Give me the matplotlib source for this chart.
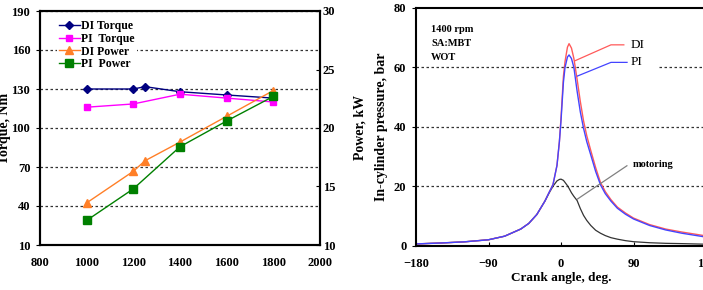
import numpy as np
import matplotlib
matplotlib.use("Agg")
import matplotlib.pyplot as plt

plt.rcParams['font.family'] = ['Liberation Serif', 'DejaVu Serif']
plt.rcParams['font.weight'] = 'bold'

# ---------------- data: left chart ----------------
speed_di = [1000, 1200, 1250, 1400, 1600, 1800]
speed_pi = [1000, 1200, 1400, 1600, 1800]
di_torque = [130, 130, 131.8, 127.9, 125.4, 123.0]
pi_torque = [116, 118.5, 126, 123, 120]
di_power = [13.6, 16.3, 17.2, 18.8, 21.0, 23.2]
pi_power = [12.1, 14.8, 18.4, 20.6, 22.7]

# ---------------- data: right chart ----------------
crank = [-180, -150, -120, -90, -70, -50, -40, -30, -20, -15, -10, -5, -2, 0, 3, 5, 8, 10,
         13, 16, 20, 24, 28, 32, 37, 43, 49, 55, 62, 70, 80, 90, 110, 130, 150, 180]
p_pi = [0.6, 0.9, 1.3, 2.0, 3.2, 5.6, 7.5, 10.5, 15.0, 17.8, 20.5, 27, 35, 42, 55, 60, 63.5, 64.2,
        63, 60, 52, 45, 39.5, 35, 30.5, 25, 20.5, 17.5, 15, 12.6, 10.6, 9.0, 6.8, 5.3, 4.2, 2.9]
p_di = [0.6, 0.9, 1.3, 2.0, 3.2, 5.6, 7.5, 10.5, 15.0, 17.8, 20.5, 27, 35, 43, 57, 62, 66.8, 68,
        66.5, 63, 56, 48.5, 42, 37, 32, 26.3, 21.3, 18.2, 15.5, 13, 11, 9.3, 7.1, 5.6, 4.6, 3.3]
p_mot = [0.6, 0.9, 1.3, 2.0, 3.2, 5.6, 7.5, 10.5, 15.0, 17.6, 20.0, 21.8, 22.3, 22.4, 22, 21.3, 20.2, 19.3,
         17.8, 16.6, 15.2, 12.5, 10.2, 8.5, 6.8, 5.2, 4.2, 3.4, 2.7, 2.2, 1.7, 1.35, 1.0, 0.8, 0.7, 0.5]

fig = plt.figure(figsize=(7.03, 2.9), dpi=100)

# ================ left chart ================
ax = fig.add_axes([40 / 703, 1 - 245 / 290, 280 / 703, 234 / 290])
ax2 = ax.twinx()

ax.set_xlim(800, 2000)
ax.set_ylim(10, 190)
ax.set_xticks(np.arange(800, 2001, 200))
ax.set_yticks(np.arange(10, 191, 30))
ax2.set_ylim(10, 30)
ax2.set_yticks([10, 15, 20, 25, 30])
ax.grid(axis='y', linestyle=(0, (2, 2)), color='#333333', linewidth=0.9)

l1, = ax.plot(speed_di, di_torque, color='#000080', marker='D', markersize=4, linewidth=1, label='DI Torque')
l2, = ax.plot(speed_pi, pi_torque, color='#FF00FF', marker='s', markersize=5, linewidth=1, label='PI  Torque')
l3, = ax2.plot(speed_di, di_power, color='#FF7F27', marker='^', markersize=6, linewidth=1, label='DI Power')
l4, = ax2.plot(speed_pi, pi_power, color='#008000', marker='s', markersize=6, linewidth=1, label='PI  Power')

leg = ax2.legend(handles=[l1, l2, l3, l4], loc='upper left', bbox_to_anchor=(0.04, 0.995),
                 frameon=True, fancybox=False, edgecolor='none', facecolor='white', framealpha=1,
                 fontsize=8.5, handlelength=1.7, handletextpad=0.15, labelspacing=0.05, borderpad=0.2)

for a in (ax, ax2):
    for s in a.spines.values():
        s.set_linewidth(1.5)
ax.tick_params(axis='y', direction='out', length=3, labelsize=9, pad=4)
ax.tick_params(axis='x', length=0, labelsize=9, pad=9)
ax2.tick_params(axis='y', direction='in', length=3, labelsize=9, pad=2)

ax.set_ylabel('Torque, Nm', fontsize=10, fontweight='bold')
ax.yaxis.set_label_coords(-0.105, 0.5)
ax2.set_ylabel('Power, kW', fontsize=10, fontweight='bold')
ax2.yaxis.set_label_coords(1.12, 0.5)
ax.set_xlabel('Engine speed, rpm', fontsize=10, fontweight='bold')
ax.xaxis.set_label_coords(0.5, -0.2)

# ================ right chart ================
bx = fig.add_axes([416 / 703, 1 - 245.7 / 290, 290 / 703, 237.7 / 290])
bx.set_xlim(-180, 180)
bx.set_ylim(0, 80)
bx.set_xticks([-180, -90, 0, 90, 180])
bx.set_yticks(np.arange(0, 81, 20))

# dotted grid; the 60 line is broken behind the labels
for g in [20, 40]:
    bx.axhline(g, color='#333333', linestyle=(0, (2, 2)), linewidth=0.9, zorder=0)
bx.axhline(60, xmax=(37 + 180) / 360, color='#333333', linestyle=(0, (2, 2)), linewidth=0.9, zorder=0)
bx.axhline(60, xmin=(122 + 180) / 360, color='#333333', linestyle=(0, (2, 2)), linewidth=0.9, zorder=0)

bx.plot(crank, p_mot, color='#333333', linewidth=0.9)
bx.plot(crank, p_di, color='#FF5A5A', linewidth=1.0)
bx.plot(crank, p_pi, color='#4444FF', linewidth=1.0)

# leader lines
bx.plot([17, 62, 78], [62.2, 67.6, 67.6], color='#FF5A5A', linewidth=0.9)
bx.plot([20.4, 62, 82], [57.1, 61.7, 61.7], color='#4444FF', linewidth=0.9)
bx.plot([20.4, 81.8], [15.7, 26.9], color='#808080', linewidth=0.9)
bx.text(86, 67.6, 'DI', fontsize=9.5, fontweight='normal', va='center', ha='left')
bx.text(86, 61.7, 'PI', fontsize=9.5, fontweight='normal', va='center', ha='left')
bx.text(89, 27.4, 'motoring', fontsize=7.5, fontweight='bold', va='center', ha='left')
bx.text(-161, 68.0, '1400 rpm\nSA:MBT\nWOT', fontsize=7.5, fontweight='bold', va='center', ha='left',
        linespacing=1.75)

for s in bx.spines.values():
    s.set_linewidth(1.5)
bx.tick_params(axis='y', direction='out', length=3, labelsize=9, pad=4)
bx.tick_params(axis='x', direction='in', length=3, labelsize=9, pad=9)
bx.set_ylabel('In-cylinder pressure, bar', fontsize=10, fontweight='bold')
bx.yaxis.set_label_coords(-0.097, 0.5)
bx.set_xlabel('Crank angle, deg.', fontsize=9.5, fontweight='bold')
bx.xaxis.set_label_coords(0.5, -0.11)

fig.savefig('out.png', dpi=100)
